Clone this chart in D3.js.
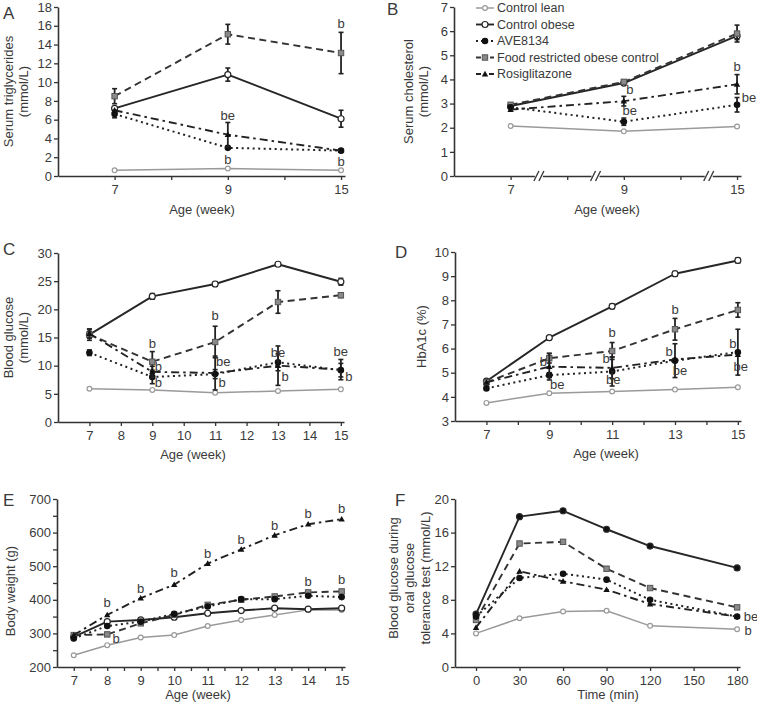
<!DOCTYPE html>
<html><head><meta charset="utf-8">
<script src="https://cdn.jsdelivr.net/npm/d3@7"></script>
<style>
body{margin:0;background:#fff}
text{font-family:"Liberation Sans",Arial,sans-serif;fill:#3a3a3a}
</style>
</head><body>
<svg id="c" width="757" height="705"></svg>
<script>
// ---------------- DATA ----------------
const legendNames = ["Control lean","Control obese","AVE8134","Food restricted obese control","Rosiglitazone"];
const legendKeys = ["lean","obese","ave","food","rosi"];

// Panel A – serum triglycerides (mmol/L)
const weeksA = ["7","9","15"];
const trigLean  = [0.6, 0.8, 0.6];
const trigObese = [7.2, 10.8, 6.1];
const trigFood  = [8.5, 15.1, 13.1];
const trigAve   = [6.6, 3.0, 2.7];
const trigRosi  = [7.0, 4.4, 2.7];
const trigErrObese = [0, 0.7, 0.9];
const trigErrFood  = [0.8, 1.05, 2.2];
const trigErrAve   = [0.4, 0, 0];
const trigErrRosi  = [0, 1.3, 0];
const annA_x = ["9","9","15","15"], annA_y = [1.8, 6.5, 16.3, 1.6], annA_t = ["b","be","b","b"], annA_dx = [0,0,0,0];

// Panel B – serum cholesterol (mmol/L)
const weeksB = ["7","9","15"];
const cholLean  = [2.07, 1.85, 2.05];
const cholObese = [2.9, 3.85, 5.8];
const cholFood  = [2.95, 3.9, 5.9];
const cholAve   = [2.85, 2.25, 2.95];
const cholRosi  = [2.75, 3.1, 3.8];
const cholErrObese = [0, 0, 0.15];
const cholErrFood  = [0, 0, 0.35];
const cholErrAve   = [0, 0.15, 0.3];
const cholErrRosi  = [0, 0.2, 0.4];
const annB_x = ["9","9","15","15"], annB_y = [3.57, 2.7, 4.52, 3.24], annB_t = ["b","be","b","be"], annB_dx = [6,6,0,12];

// Panel C – blood glucose (mmol/L)
const weeksC = [7, 9, 11, 13, 15];
const gluLean  = [5.9, 5.7, 5.2, 5.5, 5.8];
const gluObese = [15.5, 22.3, 24.5, 28.0, 24.9];
const gluFood  = [15.5, 10.7, 14.2, 21.3, 22.5];
const gluAve   = [12.3, 8.0, 8.5, 10.6, 9.2];
const gluRosi  = [15.7, 8.9, 8.7, 10.0, 9.3];
const gluErrObese = [0.6, 0.5, 0.4, 0.3, 0.6];
const gluErrFood  = [1.0, 1.8, 2.8, 2.0, 0.4];
const gluErrAve   = [0.5, 1.2, 0.8, 1.5, 1.2];
const gluErrRosi  = [0.8, 1.0, 3.0, 3.5, 1.8];
const annC_x = [9,9,9,11,11,11,13,13,15,15];
const annC_y = [14.0, 9.8, 7.1, 19.0, 10.7, 7.1, 12.4, 8.0, 12.6, 8.0];
const annC_t = ["b","b","b","b","be","b","be","b","be","b"];
const annC_dx = [0,6,6,0,8,7,0,7,0,8];

// Panel D – HbA1c (%)
const weeksD = [7, 9, 11, 13, 15];
const hbLean  = [3.75, 4.15, 4.22, 4.3, 4.4];
const hbObese = [4.65, 6.45, 7.75, 9.1, 9.65];
const hbFood  = [4.6, 5.6, 5.9, 6.8, 7.6];
const hbAve   = [4.35, 4.9, 5.05, 5.5, 5.85];
const hbRosi  = [4.6, 5.25, 5.2, 5.55, 5.75];
const hbErrObese = [0.05, 0.08, 0.1, 0.1, 0.1];
const hbErrFood  = [0.1, 0.2, 0.35, 0.45, 0.3];
const hbErrAve   = [0.05, 0.1, 0.6, 0.7, 0.95];
const hbErrRosi  = [0, 0.55, 0.45, 0, 0];
const annD_x = [9,9,11,11,11,13,13,13,15,15];
const annD_y = [5.46, 4.53, 6.65, 5.6, 4.74, 7.6, 5.9, 5.1, 6.23, 5.28];
const annD_t = ["b","be","b","b","be","b","b","be","b","be"];
const annD_dx = [-6,8,0,-6,1,0,-6,5,-5,3];

// Panel E – body weight (g)
const weeksE = [7, 8, 9, 10, 11, 12, 13, 14, 15];
const bwLean  = [235, 265, 288, 295, 322, 340, 355, 370, 370];
const bwObese = [290, 335, 340, 348, 360, 368, 375, 372, 375];
const bwFood  = [295, 297, 330, 355, 385, 400, 410, 422, 425];
const bwAve   = [285, 322, 335, 358, 380, 402, 402, 412, 408];
const bwRosi  = [295, 355, 405, 445, 508, 550, 592, 625, 640];
const annE_x = [8,8,9,10,11,12,13,14,15,14,15];
const annE_y = [393, 286, 435, 480, 539, 581, 622, 658, 673, 456, 462];
const annE_t = ["b","b","b","b","b","b","b","b","b","b","b"];
const annE_dx = [0,9,0,0,0,0,0,0,0,0,0];

// Panel F – OGTT blood glucose (mmol/L)
const timesF = [0, 30, 60, 90, 120, 180];
const ogLean  = [4.0, 5.8, 6.6, 6.7, 4.9, 4.5];
const ogObese = [6.3, 17.9, 18.6, 16.4, 14.4, 11.8];
const ogFood  = [5.6, 14.7, 14.9, 11.7, 9.4, 7.1];
const ogAve   = [6.0, 10.6, 11.1, 10.4, 8.0, 6.0];
const ogRosi  = [4.7, 11.4, 10.2, 9.2, 7.5, 6.0];
const annF_x = [180, 180], annF_y = [6.0, 4.3], annF_t = ["be","b"], annF_dx = [14, 11];

// ---------------- STYLES ----------------
const sty = {
  lean:  {stroke:"#9a9a9a", w:1.5, dash:null,      marker:"circle",   r:2.4, fill:"#fff", ms:"#9a9a9a"},
  obese: {stroke:"#262626", w:1.9, dash:null,      marker:"circle",   r:3.0, fill:"#fff", ms:"#262626"},
  food:  {stroke:"#333",    w:1.9, dash:"7,4.5",   marker:"square",   r:2.7, fill:"#8a8a8a", ms:"#555"},
  ave:   {stroke:"#222",    w:2.0, dash:"2,3.5",   marker:"circle",   r:2.7, fill:"#111", ms:"#111"},
  rosi:  {stroke:"#222",    w:1.9, dash:"8,4,2.5,4", marker:"triangle", r:3.2, fill:"#111", ms:"#111"}
};

const svg = d3.select("#c");
const FONT = 13;

function drawMarker(g, key, x, y, overrideFill) {
  const s = sty[key];
  const fill = overrideFill || s.fill;
  if (s.marker === "circle") {
    g.append("circle").attr("cx", x).attr("cy", y).attr("r", s.r)
      .attr("fill", fill).attr("stroke", s.ms).attr("stroke-width", 1.2);
  } else if (s.marker === "square") {
    g.append("rect").attr("x", x - s.r).attr("y", y - s.r).attr("width", 2*s.r).attr("height", 2*s.r)
      .attr("fill", fill).attr("stroke", s.ms).attr("stroke-width", 1);
  } else {
    const r = s.r;
    g.append("path").attr("d", `M${x},${y - r}L${x + r},${y + r*0.75}L${x - r},${y + r*0.75}Z`)
      .attr("fill", fill);
  }
}

function panel(cfg) {
  const g = svg.append("g");
  const {x, y} = cfg;
  const ax = g.append("g").attr("transform", `translate(0,${y.range()[0]})`)
    .call(d3.axisBottom(x).tickValues(cfg.xTicks).tickSize(4).tickSizeOuter(0)
      .tickPadding(5).tickFormat(cfg.xFormat));
  const ay = g.append("g").attr("transform", `translate(${x.range()[0]},0)`)
    .call(d3.axisLeft(y).tickValues(cfg.yTicks).tickSize(4).tickSizeOuter(0).tickPadding(2)
      .tickFormat(cfg.yFormat || d3.format("d")));
  [ax, ay].forEach(a => {
    a.select(".domain").attr("stroke", "#333").attr("stroke-width", 1.6);
    a.selectAll(".tick line").attr("stroke", "#333").attr("stroke-width", 1.3);
    a.selectAll("text").attr("font-size", FONT).attr("fill", "#3a3a3a")
      .style("font-family", '"Liberation Sans",Arial,sans-serif');
  });
  if (cfg.after) cfg.after(g);
  const order = ["lean","obese","food","ave","rosi"];
  order.forEach(key => {
    const vals = cfg.series[key];
    const pts = cfg.xs.map((xv, i) => [x(cfg.xmap ? cfg.xmap(xv, i) : xv), y(vals[i])]);
    const s = sty[key];
    g.append("path").attr("d", d3.line()(pts)).attr("fill", "none")
      .attr("stroke", s.stroke).attr("stroke-width", s.w)
      .attr("stroke-dasharray", s.dash).attr("stroke-linejoin", "round");
    const errs = cfg.errs && cfg.errs[key];
    if (errs) {
      pts.forEach((p, i) => {
        const e = errs[i];
        if (!e) return;
        const y1 = y(vals[i] - e), y2 = y(vals[i] + e);
        g.append("line").attr("x1", p[0]).attr("x2", p[0]).attr("y1", y1).attr("y2", y2)
          .attr("stroke", "#222").attr("stroke-width", 1.8);
        [y1, y2].forEach(yy => g.append("line").attr("x1", p[0] - 2.5).attr("x2", p[0] + 2.5)
          .attr("y1", yy).attr("y2", yy).attr("stroke", "#222").attr("stroke-width", 1.6));
      });
    }
    pts.forEach(p => drawMarker(g, key, p[0], p[1], cfg.fills && cfg.fills[key]));
  });
  if (cfg.ann) {
    cfg.ann.x.forEach((xv, i) => {
      g.append("text").attr("x", x(cfg.xmap ? cfg.xmap(xv) : xv) + cfg.ann.dx[i])
        .attr("y", y(cfg.ann.y[i])).attr("dy", "0.35em")
        .attr("text-anchor", "middle").attr("font-size", FONT).text(cfg.ann.t[i]);
    });
  }
  g.append("text").attr("x", cfg.xTitleX).attr("y", y.range()[0] + (cfg.xTitleOff || 38))
    .attr("text-anchor", "middle").attr("font-size", FONT).text(cfg.xTitle);
  const yc = (y.range()[0] + y.range()[1]) / 2 + (cfg.yTitleShift || 0);
  cfg.yTitle.forEach((line, i) => {
    g.append("text").attr("transform", `translate(${cfg.yTitleX[i]},${yc}) rotate(-90)`)
      .attr("text-anchor", "middle").attr("dy", "0.35em").attr("font-size", FONT).text(line);
  });
  g.append("text").attr("x", cfg.letterPos[0]).attr("y", cfg.letterPos[1])
    .attr("font-size", 17).attr("fill", "#222").text(cfg.letter);
  return g;
}

// ---------- Panel A ----------
const xA = d3.scaleLinear().domain([0, 5.07]).range([58, 345]);
const yA = d3.scaleLinear().domain([0, 18]).range([176, 7]);
panel({
  x: xA, y: yA, xs: weeksA, xmap: (w) => 1 + 2 * weeksA.indexOf(w),
  xTicks: [1,2,3,4,5], xFormat: d => (d % 2 === 1 ? weeksA[(d - 1) / 2] : ""),
  yTicks: d3.range(0, 19, 2),
  series: {lean: trigLean, obese: trigObese, food: trigFood, ave: trigAve, rosi: trigRosi},
  errs: {obese: trigErrObese, food: trigErrFood, ave: trigErrAve, rosi: trigErrRosi},
  ann: {x: annA_x, y: annA_y, t: annA_t, dx: annA_dx},
  xTitle: "Age (week)", xTitleX: 202,
  yTitle: ["Serum triglycerides", "(mmol/L)"], yTitleX: [8, 23],
  letter: "A", letterPos: [3, 19]
});

// ---------- Panel B ----------
const xB = d3.scaleLinear().domain([0, 5.07]).range([454, 741]);
const yB = d3.scaleLinear().domain([0, 7]).range([176, 7]);
panel({
  x: xB, y: yB, xs: weeksB, xmap: (w) => 1 + 2 * weeksB.indexOf(w),
  xTicks: [1,2,3,4,5], xFormat: d => (d % 2 === 1 ? weeksB[(d - 1) / 2] : ""),
  yTicks: d3.range(0, 8, 1),
  series: {lean: cholLean, obese: cholObese, food: cholFood, ave: cholAve, rosi: cholRosi},
  errs: {obese: cholErrObese, food: cholErrFood, ave: cholErrAve, rosi: cholErrRosi},
  ann: {x: annB_x, y: annB_y, t: annB_t, dx: annB_dx},
  xTitle: "Age (week)", xTitleX: 607,
  yTitle: ["Serum cholesterol", "(mmol/L)"], yTitleX: [408, 423],
  letter: "B", letterPos: [387, 15],
  after: (g) => {
    [1.5, 2.5, 4.5].forEach(b => {
      const cx = xB(b), cy = yB(0);
      g.append("rect").attr("x", cx - 4).attr("y", cy - 2).attr("width", 8).attr("height", 4).attr("fill", "#fff");
      [-2.5, 2.5].forEach(o => g.append("line").attr("x1", cx + o - 2.5).attr("y1", cy + 5)
        .attr("x2", cx + o + 2.5).attr("y2", cy - 5).attr("stroke", "#333").attr("stroke-width", 1.3));
    });
  }
});

// ---------- Panel C ----------
const xC = d3.scaleLinear().domain([6, 15.1]).range([58, 344]);
const yC = d3.scaleLinear().domain([0, 30]).range([422, 253]);
panel({
  x: xC, y: yC, xs: weeksC,
  xTicks: d3.range(7, 16), xFormat: d3.format("d"),
  yTicks: d3.range(0, 31, 5),
  series: {lean: gluLean, obese: gluObese, food: gluFood, ave: gluAve, rosi: gluRosi},
  errs: {obese: gluErrObese, food: gluErrFood, ave: gluErrAve, rosi: gluErrRosi},
  ann: {x: annC_x, y: annC_y, t: annC_t, dx: annC_dx},
  xTitle: "Age (week)", xTitleX: 193, xTitleOff: 37,
  yTitle: ["Blood glucose", "(mmol/L)"], yTitleX: [8, 23],
  letter: "C", letterPos: [3, 255]
});

// ---------- Panel D ----------
const xD = d3.scaleLinear().domain([6, 15.1]).range([455, 741]);
const yD = d3.scaleLinear().domain([3, 10]).range([421, 252]);
panel({
  x: xD, y: yD, xs: weeksD,
  xTicks: d3.range(7, 16), xFormat: d => (d % 2 === 1 ? d : ""),
  yTicks: d3.range(3, 11, 1),
  series: {lean: hbLean, obese: hbObese, food: hbFood, ave: hbAve, rosi: hbRosi},
  errs: {obese: hbErrObese, food: hbErrFood, ave: hbErrAve, rosi: hbErrRosi},
  ann: {x: annD_x, y: annD_y, t: annD_t, dx: annD_dx},
  xTitle: "Age (week)", xTitleX: 606, xTitleOff: 37,
  yTitle: ["HbA1c (%)"], yTitleX: [421],
  letter: "D", letterPos: [395, 258]
});

// ---------- Panel E ----------
const xE = d3.scaleLinear().domain([6.5, 15.1]).range([57, 345]);
const yE = d3.scaleLinear().domain([200, 700]).range([667, 499]);
panel({
  x: xE, y: yE, xs: weeksE,
  xTicks: d3.range(7, 15.01, 0.5), xFormat: d => (Number.isInteger(d) ? d : ""),
  yTicks: d3.range(200, 701, 50), yFormat: d => (d % 100 === 0 ? d : ""),
  series: {lean: bwLean, obese: bwObese, food: bwFood, ave: bwAve, rosi: bwRosi},
  ann: {x: annE_x, y: annE_y, t: annE_t, dx: annE_dx},
  xTitle: "Age (week)", xTitleX: 198, xTitleOff: 32,
  yTitle: ["Body weight (g)"], yTitleX: [10],
  yTitleShift: 8,
  letter: "E", letterPos: [3, 506]
});

// ---------- Panel F ----------
const xF = d3.scaleLinear().domain([-14.5, 182]).range([455, 740]);
const yF = d3.scaleLinear().domain([0, 20]).range([667, 499]);
panel({
  x: xF, y: yF, xs: timesF,
  xTicks: d3.range(0, 181, 30), xFormat: d3.format("d"),
  yTicks: d3.range(0, 21, 4),
  series: {lean: ogLean, obese: ogObese, food: ogFood, ave: ogAve, rosi: ogRosi},
  fills: {obese: "#111"},
  ann: {x: annF_x, y: annF_y, t: annF_t, dx: annF_dx},
  xTitle: "Time (min)", xTitleX: 608, xTitleOff: 32,
  yTitle: ["Blood glucose during", "oral glucose", "tolerance test (mmol/L)"], yTitleX: [393, 409, 425],
  yTitleShift: -5,
  letter: "F", letterPos: [395, 506]
});

// ---------- Legend (in panel B) ----------
const lg = svg.append("g");
legendKeys.forEach((key, i) => {
  const yy = 8 + i * 16.5;
  const s = sty[key];
  lg.append("line").attr("x1", 476).attr("x2", 494).attr("y1", yy).attr("y2", yy)
    .attr("stroke", s.stroke).attr("stroke-width", s.w)
    .attr("stroke-dasharray", key === "ave" ? "2,3" : key === "rosi" ? "5,3,2,3" : key === "food" ? "5,2" : null);
  drawMarker(lg, key, 485, yy);
  lg.append("text").attr("x", 497).attr("y", yy).attr("dy", "0.35em")
    .attr("font-size", 12.5).text(legendNames[i]);
});
</script>
</body></html>
